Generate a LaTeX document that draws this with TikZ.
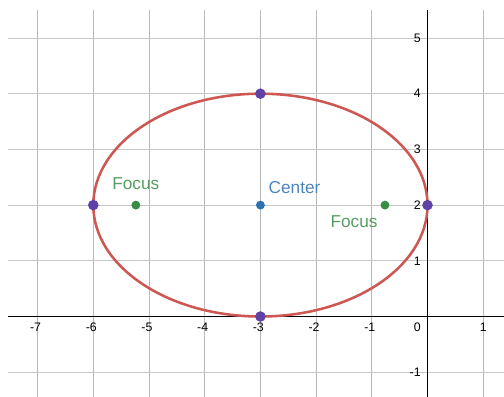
\documentclass[tikz,border=0pt]{standalone}
\usepackage{fontspec}
\setmainfont{Liberation Sans}
\usetikzlibrary{positioning}

\definecolor{ellred}{HTML}{C74440}
\definecolor{ptblue}{HTML}{2D70B3}
\definecolor{ptgreen}{HTML}{388C46}
\definecolor{ptpurple}{HTML}{6042A6}

\begin{document}
\begin{tikzpicture}[
    dot/.style={circle, inner sep=0pt, minimum size=0.16cm},
    vertex/.style={circle, inner sep=0pt, minimum size=0.19cm, fill=ptpurple},
    tick/.style={font=\fontsize{6.3}{7}\selectfont, inner sep=1pt},
    lbl/.style={font=\fontsize{8.8}{10}\selectfont, inner sep=0pt}]
    \useasboundingbox (-7.675,-1.427) rectangle (1.373,5.682);

    % Grid and axes
    \begin{scope}
        \clip (-7.53,-1.427) rectangle (1.373,5.485);
        \foreach \x in {-7,...,1}
            \draw[gray!55, line width=0.5pt] (\x,-2) -- (\x,6);
        \foreach \y in {-1,...,5}
            \draw[gray!45, line width=0.5pt] (-8,\y) -- (2,\y);
        \draw[line width=0.9pt] (-8,0) -- (2,0);
        \draw[line width=0.9pt] (0,-2) -- (0,6);
    \end{scope}

    % Tick labels
    \foreach \x in {1,...,7}
        \node[tick, anchor=north] at (-\x,-0.08) {\llap{-}\x};
    \node[tick, anchor=north] at (1,-0.08) {1};
    \node[tick, anchor=north east] at (-0.08,-0.08) {0};
    \foreach \y in {1,...,5}
        \node[tick, anchor=east] at (-0.08,\y) {\y};
    \node[tick, anchor=east] at (-0.08,-1) {-1};

    % Ellipse
    \draw[ellred!90!white, line width=1.3pt] (-3,2) ellipse (3 and 2);

    % Points
    \node[vertex] (left) at (-6,2) {};
    \node[vertex] (right) at (0,2) {};
    \node[vertex] (top) at (-3,4) {};
    \node[vertex] (bottom) at (-3,0) {};
    \node[dot, fill=ptblue] (center) at (-3,2) {};
    \node[dot, fill=ptgreen] (f1) at ({-3-sqrt(5)},2) {};
    \node[dot, fill=ptgreen] (f2) at ({-3+sqrt(5)},2) {};

    % Labels
    \node[lbl, text=ptgreen!85!white] (f1lbl) [above=0.18cm of f1] {Focus};
    \node[lbl, text=ptgreen!85!white, anchor=north east] (f2lbl) at (-0.89,1.81) {Focus};
    \node[lbl, text=ptblue!85!white] (clbl) [above right=0.13cm and 0.08cm of center] {Center};
\end{tikzpicture}
\end{document}
